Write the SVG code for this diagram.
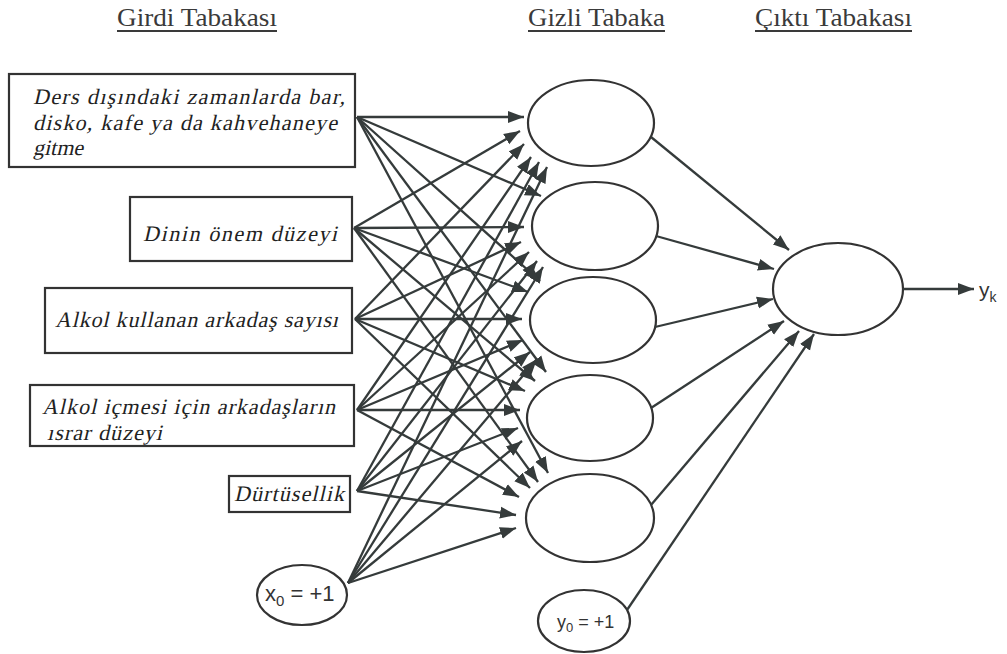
<svg xmlns="http://www.w3.org/2000/svg" width="1007" height="654" viewBox="0 0 1007 654">
<style>
.hdr{font-family:"Liberation Serif",serif;font-size:25px;fill:#3a3a3a}
.ul{stroke:#3a3a3a;stroke-width:2}
.box{fill:#fff;stroke:#333;stroke-width:2.2}
.it{font-family:"Liberation Serif",serif;font-size:22px;fill:#222}
.nd{fill:#fff;stroke:#333;stroke-width:2.2}
.sans{font-family:"Liberation Sans",Arial,sans-serif;fill:#333}
.c line{stroke:#353b3b;stroke-width:2.3;marker-end:url(#ah)}
</style>
<defs>
<marker id="ah" markerUnits="userSpaceOnUse" markerWidth="18" markerHeight="13" refX="16" refY="6.5" orient="auto">
<path d="M0,0.5 L16,6.5 L0,12.5 z" fill="#353b3b"/>
</marker>
</defs>
<rect width="1007" height="654" fill="#fff"/>
<g id="headers">
<text class="hdr" x="117" y="26" textLength="160" lengthAdjust="spacingAndGlyphs">Girdi Tabakası</text>
<line class="ul" x1="117" y1="31" x2="277" y2="31"/>
<text class="hdr" x="528" y="26" textLength="137" lengthAdjust="spacingAndGlyphs">Gizli Tabaka</text>
<line class="ul" x1="528" y1="31" x2="665" y2="31"/>
<text class="hdr" x="755" y="26" textLength="157" lengthAdjust="spacingAndGlyphs">Çıktı Tabakası</text>
<line class="ul" x1="755" y1="31" x2="912" y2="31"/>
</g>
<g id="in1"><rect class="box" x="9" y="74" width="346" height="93"/>
<text class="it" transform="translate(33,104) skewX(-13)" textLength="312" lengthAdjust="spacing">Ders dışındaki zamanlarda bar,</text>
<text class="it" transform="translate(33,130) skewX(-13)" textLength="304" lengthAdjust="spacing">disko, kafe ya da kahvehaneye</text>
<text class="it" transform="translate(33,155) skewX(-13)">gitme</text></g>
<g id="in2"><rect class="box" x="130" y="197" width="222" height="64"/>
<text class="it" transform="translate(143,241) skewX(-13)" textLength="194" lengthAdjust="spacing">Dinin önem düzeyi</text></g>
<g id="in3"><rect class="box" x="45" y="288" width="307" height="65"/>
<text class="it" transform="translate(55,327) skewX(-13)" textLength="283" lengthAdjust="spacing">Alkol kullanan arkadaş sayısı</text></g>
<g id="in4"><rect class="box" x="30" y="385" width="324" height="61"/>
<text class="it" transform="translate(42,414) skewX(-13)" textLength="293" lengthAdjust="spacing">Alkol içmesi için arkadaşların</text>
<text class="it" transform="translate(47,440) skewX(-13)" textLength="115" lengthAdjust="spacing">ısrar düzeyi</text></g>
<g id="in5"><rect class="box" x="229" y="476" width="121" height="36"/>
<text class="it" transform="translate(234,501) skewX(-13)" textLength="110" lengthAdjust="spacing">Dürtüsellik</text></g>
<g id="x0"><ellipse class="nd" cx="302" cy="595" rx="45" ry="30"/>
<text class="sans" x="265" y="601" font-size="22">x<tspan font-size="15" dy="5">0</tspan><tspan dy="-5"> = +1</tspan></text></g>
<g id="h1"><ellipse class="nd" cx="591" cy="123" rx="63" ry="43"/></g>
<g id="h2"><ellipse class="nd" cx="595" cy="226" rx="63" ry="44"/></g>
<g id="h3"><ellipse class="nd" cx="593" cy="320" rx="63" ry="43"/></g>
<g id="h4"><ellipse class="nd" cx="590" cy="418" rx="63" ry="43"/></g>
<g id="h5"><ellipse class="nd" cx="590" cy="518" rx="64" ry="44"/></g>
<g id="y0"><ellipse class="nd" cx="584" cy="621" rx="46" ry="31"/>
<text class="sans" x="557" y="628" font-size="18">y<tspan font-size="13" dy="4">0</tspan><tspan dy="-4"> = +1</tspan></text></g>
<g id="out"><ellipse class="nd" cx="838" cy="289" rx="65" ry="46"/></g>
<g id="yk"><text class="sans" x="979" y="297" font-size="21">y<tspan font-size="14" dy="5">k</tspan></text></g>
<g id="connectors" class="c">
<line x1="357" y1="117" x2="524" y2="117"/>
<line x1="354" y1="228" x2="520" y2="131"/>
<line x1="355" y1="319" x2="524" y2="144"/>
<line x1="357" y1="410" x2="531" y2="157"/>
<line x1="357" y1="491" x2="539" y2="162"/>
<line x1="348" y1="583" x2="547" y2="167"/>
<line x1="357" y1="117" x2="541" y2="196"/>
<line x1="354" y1="228" x2="524" y2="227"/>
<line x1="355" y1="319" x2="521" y2="242"/>
<line x1="357" y1="410" x2="529" y2="252"/>
<line x1="357" y1="491" x2="537" y2="261"/>
<line x1="348" y1="583" x2="543" y2="267"/>
<line x1="357" y1="117" x2="540" y2="281"/>
<line x1="354" y1="228" x2="528" y2="292"/>
<line x1="355" y1="319" x2="522" y2="319"/>
<line x1="357" y1="410" x2="523" y2="340"/>
<line x1="357" y1="491" x2="530" y2="352"/>
<line x1="348" y1="583" x2="537" y2="359"/>
<line x1="357" y1="117" x2="546" y2="372"/>
<line x1="354" y1="228" x2="535" y2="381"/>
<line x1="355" y1="319" x2="525" y2="391"/>
<line x1="357" y1="410" x2="520" y2="410"/>
<line x1="357" y1="491" x2="518" y2="428"/>
<line x1="348" y1="583" x2="522" y2="441"/>
<line x1="357" y1="117" x2="548" y2="473"/>
<line x1="354" y1="228" x2="538" y2="482"/>
<line x1="355" y1="319" x2="530" y2="488"/>
<line x1="357" y1="410" x2="519" y2="497"/>
<line x1="357" y1="491" x2="516" y2="515"/>
<line x1="348" y1="583" x2="516" y2="528"/>
<line x1="651" y1="137" x2="789" y2="250"/>
<line x1="656" y1="236" x2="774" y2="269"/>
<line x1="655" y1="327" x2="773" y2="299"/>
<line x1="651" y1="408" x2="784" y2="321"/>
<line x1="651" y1="505" x2="799" y2="331"/>
<line x1="627" y1="610" x2="814" y2="334"/>
<line x1="903" y1="289" x2="974" y2="289"/>
</g>
</svg>
